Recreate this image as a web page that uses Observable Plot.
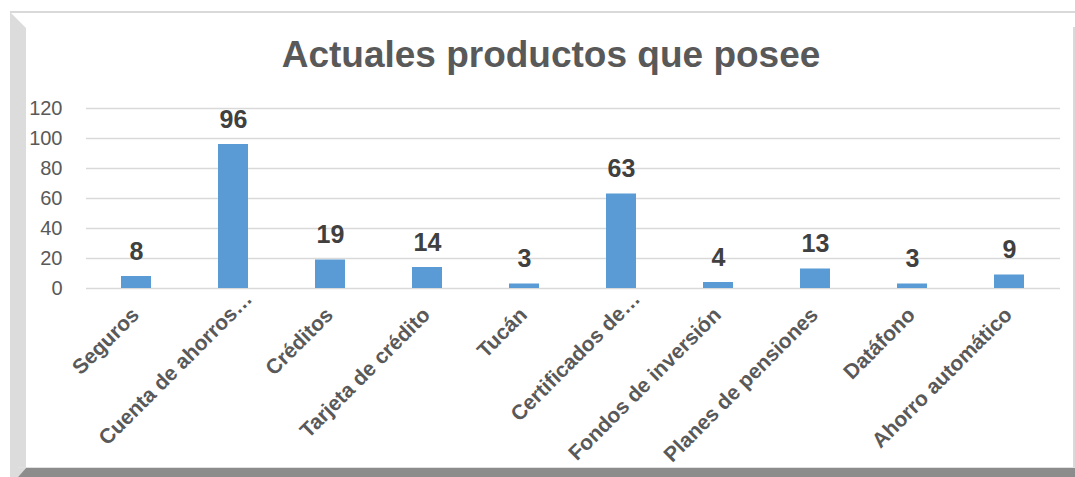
<!DOCTYPE html>
<html>
<head>
<meta charset="utf-8">
<script src="https://cdn.jsdelivr.net/npm/d3@7"></script>
<script src="https://cdn.jsdelivr.net/npm/@observablehq/plot@0.6"></script>
<style>
  html, body { margin: 0; padding: 0; background: #ffffff; }
  #wrap { position: relative; width: 1075px; height: 477px; overflow: hidden; background: #fff;
          font-family: "Liberation Sans", Arial, sans-serif; }
  .deco { position: absolute; }
  #title { position: absolute; left: 0; top: 36px; width: 1102px; text-align: center;
           font-size: 37px; line-height: 37px; font-weight: bold; color: #595959; }
  #chart { position: absolute; left: 0; top: 0; }
</style>
</head>
<body>
<div id="wrap">
  <div class="deco" style="left:10px;top:11px;width:1065px;height:2px;background:#d9d9d9"></div>
  <div class="deco" style="left:10px;top:12px;width:16px;height:465px;background:#dcdcdc;clip-path:polygon(0 0,16px 16px,16px 456px,8px 465px,0 465px)"></div>
  <div class="deco" style="left:1073px;top:27px;width:2px;height:441px;background:#d9d9d9"></div>
  <div class="deco" style="left:18px;top:467px;width:1057px;height:1px;background:#e0e0e0"></div>
  <div class="deco" style="left:18px;top:468px;width:1057px;height:9px;background:#8c8c8c;clip-path:polygon(8px 0,1057px 0,1057px 9px,0 9px)"></div>
  <div id="chart"></div>
  <div id="title">Actuales productos que posee</div>
</div>
<script>
const categories = ["Seguros", "Cuenta de ahorros…", "Créditos", "Tarjeta de crédito", "Tucán",
  "Certificados de…", "Fondos de inversión", "Planes de pensiones", "Datáfono", "Ahorro automático"];
const values = [8, 96, 19, 14, 3, 63, 4, 13, 3, 9];
const yTicks = [0, 20, 40, 60, 80, 100, 120];
const truncated = ["Cuenta de ahorros…", "Certificados de…"];

const data = categories.map((c, i) => ({cat: c, value: values[i]}));
const fullLabels = categories.filter(c => !truncated.includes(c));

const font = "'Liberation Sans', Arial, sans-serif";

const chart = Plot.plot({
  width: 1075,
  height: 477,
  marginLeft: 86,
  marginRight: 15,
  marginTop: 108,
  marginBottom: 189,
  style: {fontFamily: font, background: "transparent", overflow: "visible"},
  x: {domain: categories, paddingInner: 0.69, paddingOuter: 0.345, axis: null},
  y: {domain: [0, 120], axis: null},
  marks: [
    Plot.ruleY(yTicks, {stroke: "#d9d9d9", strokeWidth: 1.5}),
    Plot.axisY(yTicks, {tickSize: 0, tickPadding: 24, fontSize: 20, fill: "#595959", color: "#595959", label: null}),
    Plot.barY(data, {x: "cat", y: "value", fill: "#5b9bd5"}),
    Plot.text(data, {x: "cat", y: "value", text: d => String(d.value), dy: -25,
      fontSize: 25, fontWeight: "bold", fill: "#404040"}),
    Plot.text(fullLabels, {x: d => d, y: 0, text: d => d, rotate: -45, textAnchor: "end",
      dx: -1, dy: 23, fontSize: 21, fontWeight: "bold", fill: "#595959"}),
    Plot.text(truncated, {x: d => d, y: 0, text: d => d, rotate: -45, textAnchor: "end",
      dx: 15, dy: 7, fontSize: 21, fontWeight: "bold", fill: "#595959"})
  ]
});
document.getElementById("chart").appendChild(chart);
</script>
</body>
</html>
